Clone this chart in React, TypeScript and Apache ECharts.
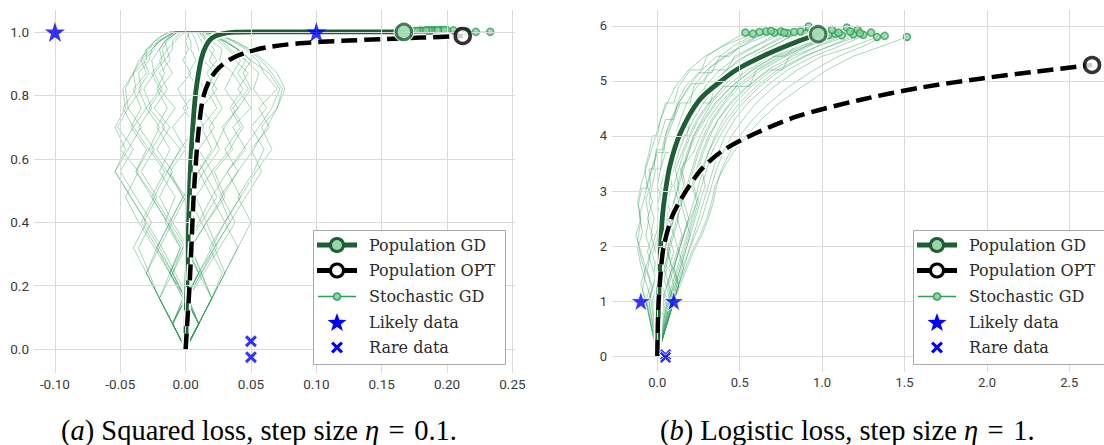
import React, { useEffect, useRef } from "react";
import * as echarts from "echarts";

// ---------------- Panel (a): squared loss ----------------
const A_X_TICKS = [-0.1, -0.05, 0, 0.05, 0.1, 0.15, 0.2, 0.25];
const A_Y_TICKS = [0, 0.2, 0.4, 0.6, 0.8, 1.0];
const A_GD = [[0,0],[0.0005,0.1],[0.001,0.2],[0.0016,0.3],[0.0023,0.4],[0.003,0.5],[0.004,0.6],[0.0055,0.7],[0.0075,0.8],[0.0095,0.86],[0.012,0.915],[0.0155,0.955],[0.02,0.98],[0.027,0.993],[0.038,0.999],[0.06,1.0],[0.167,1.0]];
const A_OPT = [[0,0],[0.0015,0.1],[0.003,0.2],[0.0045,0.33],[0.006,0.47],[0.0077,0.58],[0.0097,0.68],[0.013,0.785],[0.018,0.845],[0.025,0.885],[0.034,0.913],[0.045,0.933],[0.0615,0.951],[0.087,0.964],[0.12,0.972],[0.15,0.977],[0.18,0.982],[0.212,0.987]];
const A_LIKELY = [[-0.1,1],[0.1,1]];
const A_RARE = [[0.05,0.025],[0.05,-0.025]];
// stochastic GD paths, sampled at these heights
const A_SGD_LEVELS = [0,0.08,0.16,0.24,0.32,0.40,0.48,0.56,0.63,0.70,0.76,0.82,0.87,0.91,0.945,0.97,0.988,1.0];
const A_SGD_X = [
  [0,-0.01,-0.002,-0.012,-0.004,-0.016,-0.008,-0.02,-0.012,-0.022,-0.014,-0.022,-0.016,-0.02,-0.014,-0.016,-0.01,-0.006],
  [0,0.01,0.002,0.012,0.022,0.012,0.024,0.014,0.026,0.018,0.028,0.02,0.026,0.018,0.022,0.016,0.014,0.012],
  [0,-0.01,-0.02,-0.01,-0.022,-0.034,-0.024,-0.038,-0.028,-0.04,-0.03,-0.036,-0.028,-0.032,-0.024,-0.022,-0.014,-0.008],
  [0,0.01,0.02,0.028,0.018,0.03,0.042,0.032,0.046,0.036,0.05,0.04,0.048,0.038,0.04,0.03,0.022,0.016],
  [0,-0.01,0,-0.012,-0.024,-0.036,-0.046,-0.036,-0.05,-0.04,-0.048,-0.038,-0.04,-0.03,-0.03,-0.02,-0.014,-0.01],
  [0,0.01,0.0,0.01,0.0,0.012,0.002,0.014,0.004,0.014,0.006,0.014,0.008,0.012,0.01,0.008,0.006,0.004],
  [0,0.01,0.02,0.01,0.022,0.034,0.046,0.058,0.05,0.064,0.056,0.07,0.06,0.055,0.046,0.036,0.026,0.02],
  [0,-0.01,-0.02,-0.028,-0.036,-0.026,-0.038,-0.05,-0.04,-0.052,-0.044,-0.046,-0.04,-0.034,-0.03,-0.024,-0.018,-0.012],
  [0,0.01,0,-0.01,-0.002,0.008,-0.002,0.01,0.02,0.012,0.024,0.016,0.022,0.014,0.016,0.012,0.01,0.008],
  [0,-0.01,0,0.01,0.02,0.03,0.02,0.032,0.044,0.056,0.066,0.072,0.064,0.05,0.04,0.03,0.022,0.016],
  [0,-0.01,-0.002,-0.012,-0.022,-0.012,-0.002,-0.012,0.0,-0.01,0.002,-0.006,0.004,-0.002,0.002,0.0,0.002,0.002],
  [0,0.01,0.02,0.012,0.004,0.016,0.028,0.02,0.034,0.044,0.036,0.048,0.04,0.046,0.034,0.028,0.02,0.014],
  [0,-0.01,-0.02,-0.012,-0.004,-0.014,-0.026,-0.016,-0.028,-0.02,-0.03,-0.02,-0.026,-0.018,-0.02,-0.016,-0.012,-0.008],
  [0,0.01,0.002,-0.008,-0.018,-0.03,-0.042,-0.054,-0.046,-0.054,-0.046,-0.048,-0.04,-0.036,-0.028,-0.024,-0.018,-0.012],
  [0,0.01,0.02,0.03,0.022,0.034,0.026,0.04,0.052,0.062,0.07,0.074,0.066,0.058,0.048,0.038,0.028,0.02],
  [0,-0.01,0,0.012,0.004,0.016,0.008,0.02,0.01,0.022,0.012,0.024,0.016,0.024,0.018,0.016,0.012,0.01],
  [0,0.01,0,0.01,0.002,-0.01,0,-0.014,-0.004,-0.018,-0.008,-0.02,-0.01,-0.016,-0.01,-0.01,-0.006,-0.004],
  [0,-0.01,-0.02,-0.03,-0.02,-0.032,-0.022,-0.034,-0.024,-0.036,-0.026,-0.032,-0.024,-0.026,-0.02,-0.016,-0.01,-0.006],
  [0,0.01,0.02,0.012,0.024,0.016,0.03,0.022,0.036,0.028,0.04,0.03,0.036,0.026,0.028,0.02,0.014,0.01],
  [0,-0.01,-0.02,-0.03,-0.04,-0.03,-0.042,-0.054,-0.044,-0.034,-0.044,-0.034,-0.036,-0.028,-0.026,-0.02,-0.012,-0.008],
  [0,0.01,0.0,-0.01,-0.02,-0.01,-0.02,-0.01,-0.022,-0.012,-0.024,-0.014,-0.02,-0.012,-0.014,-0.008,-0.004,0.0],
  [0,0.01,0.02,0.03,0.04,0.05,0.04,0.052,0.06,0.05,0.062,0.052,0.056,0.046,0.04,0.032,0.024,0.016],
  [0,-0.01,0.0,0.01,0.0,-0.012,-0.002,-0.014,-0.004,0.008,-0.002,0.01,0.002,0.008,0.004,0.004,0.002,0.002],
  [0,0.01,0.002,0.014,0.026,0.038,0.028,0.04,0.03,0.042,0.034,0.044,0.036,0.042,0.032,0.026,0.018,0.012],
  [0,-0.01,-0.02,-0.03,-0.022,-0.012,-0.024,-0.014,-0.026,-0.016,-0.028,-0.018,-0.024,-0.016,-0.018,-0.014,-0.01,-0.006],
  [0,0.01,0.0,-0.01,0.0,0.01,0.02,0.01,0.022,0.03,0.04,0.05,0.044,0.05,0.04,0.03,0.02,0.014],
  [0,-0.01,0.0,-0.012,-0.002,-0.014,-0.026,-0.038,-0.03,-0.042,-0.034,-0.04,-0.03,-0.034,-0.026,-0.02,-0.014,-0.008],
  [0,0.01,0.02,0.03,0.04,0.03,0.042,0.054,0.066,0.058,0.07,0.076,0.07,0.06,0.05,0.038,0.028,0.02],
];
const A_SGD_END = [[0.172,1.003],[0.185,1.005],[0.176,1.002],[0.195,1.006],[0.170,1.001],[0.180,1.004],[0.205,1.005],[0.178,1.003],[0.190,1.006],[0.222,1.0],[0.183,1.004],[0.200,1.005],[0.174,1.002],[0.187,1.005],[0.233,1.0],[0.197,1.006],[0.181,1.003],[0.192,1.004],[0.188,1.004],[0.179,1.003],[0.186,1.005],[0.210,1.002],[0.175,1.003],[0.198,1.006],[0.184,1.004],[0.193,1.005],[0.177,1.003],[0.215,1.001]];

// ---------------- Panel (b): logistic loss ----------------
const B_X_TICKS = [0, 0.5, 1, 1.5, 2, 2.5];
const B_Y_TICKS = [0, 1, 2, 3, 4, 5, 6];
const B_GD = [[0,0],[0.004,0.5],[0.008,1.0],[0.013,1.5],[0.02,2.0],[0.03,2.5],[0.045,2.9],[0.075,3.44],[0.138,4.04],[0.254,4.65],[0.40,5.03],[0.506,5.25],[0.675,5.5],[0.843,5.71],[0.976,5.85]];
const B_OPT = [[0,0],[0.002,0.4],[0.008,1.0],[0.02,1.5],[0.038,1.98],[0.089,2.53],[0.14,2.83],[0.2,3.12],[0.275,3.42],[0.4,3.74],[0.59,4.04],[0.843,4.35],[1.222,4.65],[1.6,4.88],[1.98,5.05],[2.3,5.17],[2.638,5.29]];
const B_LIKELY = [[-0.1,1],[0.1,1]];
const B_RARE = [[0.05,0.025],[0.05,-0.025]];
// stochastic GD paths as flat x,y lists (last pair = end point)
const B_SGD = [
  [0,0,-0.06,0.9,-0.09,1.2,-0.07,1.5,-0.1,1.8,-0.12,2.1,-0.1,2.45,-0.115,2.75,-0.095,3.05,-0.06,3.05,-0.075,3.4,-0.05,3.7,-0.03,4.0,0.0,4.0,0.02,4.3,0.05,4.6,0.1,4.6,0.13,4.9,0.2,5.2,0.27,5.2,0.3,5.45,0.4,5.65,0.534,5.88],
  [0,0,-0.05,0.95,-0.03,1.25,-0.06,1.55,-0.04,1.9,-0.07,2.2,-0.05,2.5,-0.07,2.85,-0.04,3.1,-0.05,3.4,-0.02,3.4,-0.01,3.7,0.02,4.0,0.05,4.3,0.1,4.3,0.12,4.6,0.17,4.9,0.25,5.15,0.33,5.15,0.38,5.45,0.47,5.65,0.62,5.89],
  [0,0,0.08,1.0,0.05,1.3,0.02,1.6,-0.01,1.9,-0.04,2.2,-0.02,2.5,-0.05,2.8,-0.03,3.1,-0.01,3.4,0.02,3.4,0.03,3.7,0.06,4.0,0.1,4.3,0.14,4.6,0.2,4.6,0.22,4.9,0.3,5.2,0.42,5.45,0.52,5.65,0.66,5.9],
  [0,0,-0.04,1.05,-0.07,1.35,-0.1,1.65,-0.12,1.95,-0.09,2.25,-0.11,2.55,-0.08,2.85,-0.06,3.15,-0.03,3.45,0.0,3.75,0.03,3.75,0.05,4.05,0.09,4.35,0.14,4.65,0.21,4.95,0.28,4.95,0.32,5.25,0.43,5.5,0.56,5.7,0.71,5.88],
  [0,0,0.1,1.0,0.07,1.3,0.04,1.6,0.07,1.9,0.04,2.2,0.01,2.5,0.03,2.8,0.0,3.1,0.02,3.4,0.05,3.7,0.1,3.7,0.11,4.0,0.14,4.3,0.18,4.6,0.24,4.9,0.34,5.2,0.42,5.2,0.47,5.45,0.6,5.65,0.75,5.9],
  [0,0,-0.06,0.95,-0.03,1.25,0.0,1.55,-0.03,1.85,0.0,2.15,0.03,2.45,0.0,2.75,0.03,3.05,0.07,3.05,0.06,3.35,0.08,3.65,0.11,3.95,0.15,4.25,0.2,4.55,0.28,4.85,0.36,4.85,0.4,5.15,0.5,5.4,0.63,5.6,0.79,5.87],
  [0,0,0.06,1.0,0.03,1.3,0.06,1.6,0.03,1.9,0.06,2.2,0.09,2.5,0.06,2.8,0.09,3.1,0.07,3.4,0.1,3.7,0.13,4.0,0.18,4.0,0.2,4.3,0.25,4.6,0.31,4.9,0.42,5.2,0.54,5.45,0.67,5.65,0.83,5.89],
  [0,0,0.09,1.0,0.12,1.3,0.09,1.6,0.06,1.9,0.03,2.2,0.06,2.5,0.03,2.8,0.06,3.1,0.09,3.4,0.12,3.7,0.16,4.0,0.2,4.3,0.26,4.6,0.32,4.6,0.35,4.9,0.46,5.2,0.58,5.45,0.71,5.65,0.87,5.9],
  [0,0,-0.07,1.0,-0.04,1.3,-0.07,1.6,-0.04,1.9,-0.01,2.2,0.02,2.5,0.05,2.8,0.08,3.1,0.06,3.4,0.1,3.7,0.14,4.0,0.19,4.3,0.25,4.6,0.33,4.9,0.45,5.2,0.52,5.2,0.58,5.45,0.74,5.7,0.918,5.99],
  [0,0,0.1,1.0,0.13,1.3,0.16,1.6,0.13,1.9,0.1,2.2,0.13,2.5,0.1,2.8,0.13,3.1,0.11,3.4,0.15,3.7,0.19,4.0,0.24,4.3,0.31,4.6,0.4,4.9,0.48,4.9,0.52,5.2,0.65,5.45,0.8,5.65,1.0,5.86],
  [0,0,0.04,1.0,0.01,1.3,0.04,1.6,0.07,1.9,0.1,2.2,0.07,2.5,0.1,2.8,0.13,3.1,0.16,3.4,0.19,3.7,0.22,4.0,0.27,4.3,0.33,4.6,0.42,4.9,0.55,5.2,0.69,5.45,0.78,5.45,0.84,5.65,1.04,5.84],
  [0,0,0.08,1.0,0.11,1.3,0.14,1.6,0.17,1.9,0.2,2.2,0.17,2.5,0.14,2.8,0.17,3.1,0.15,3.4,0.18,3.7,0.22,4.0,0.28,4.3,0.35,4.6,0.45,4.9,0.58,5.2,0.72,5.45,0.88,5.65,1.08,5.86],
  [0,0,-0.05,1.0,-0.02,1.3,0.01,1.6,0.04,1.9,0.07,2.2,0.1,2.5,0.13,2.8,0.16,3.1,0.14,3.4,0.22,3.7,0.26,4.0,0.31,4.3,0.38,4.6,0.48,4.9,0.61,5.2,0.76,5.45,0.92,5.65,1.12,5.83],
  [0,0,0.1,1.0,0.07,1.3,0.1,1.6,0.13,1.9,0.16,2.2,0.19,2.5,0.16,2.8,0.19,3.1,0.22,3.4,0.25,3.7,0.29,4.0,0.34,4.3,0.41,4.6,0.5,4.9,0.63,5.2,0.78,5.45,0.95,5.7,1.15,5.97],
  [0,0,0.07,1.0,0.1,1.3,0.13,1.6,0.16,1.9,0.19,2.2,0.22,2.5,0.25,2.8,0.22,3.1,0.25,3.4,0.28,3.7,0.32,4.0,0.37,4.3,0.44,4.6,0.54,4.9,0.67,5.2,0.82,5.45,0.99,5.65,1.19,5.85],
  [0,0,0.1,1.0,0.13,1.3,0.1,1.6,0.13,1.9,0.16,2.2,0.19,2.5,0.22,2.8,0.25,3.1,0.28,3.4,0.31,3.7,0.35,4.0,0.4,4.3,0.47,4.6,0.57,4.9,0.7,5.2,0.85,5.45,1.02,5.7,1.215,5.93],
  [0,0,0.08,1.0,0.11,1.3,0.14,1.6,0.17,1.9,0.2,2.2,0.23,2.5,0.26,2.8,0.29,3.1,0.27,3.4,0.31,3.7,0.36,4.0,0.42,4.3,0.5,4.6,0.6,4.9,0.73,5.2,0.89,5.45,1.06,5.65,1.25,5.84],
  [0,0,0.1,1.0,0.13,1.3,0.16,1.6,0.19,1.9,0.22,2.2,0.25,2.5,0.28,2.8,0.31,3.1,0.34,3.4,0.37,3.7,0.41,4.0,0.47,4.3,0.55,4.6,0.66,4.9,0.79,5.2,0.95,5.45,1.12,5.65,1.297,5.88],
  [0,0,0.09,1.0,0.12,1.3,0.15,1.6,0.19,1.9,0.23,2.2,0.27,2.5,0.3,2.8,0.33,3.1,0.36,3.4,0.4,3.7,0.45,4.0,0.52,4.3,0.6,4.6,0.71,4.9,0.85,5.2,1.0,5.45,1.16,5.6,1.333,5.8],
  [0,0,0.1,1.0,0.13,1.3,0.17,1.6,0.21,1.9,0.26,2.2,0.3,2.5,0.33,2.8,0.35,3.1,0.4,3.4,0.46,3.7,0.54,4.0,0.63,4.3,0.74,4.6,0.88,4.9,1.03,5.2,1.19,5.45,1.35,5.62,1.515,5.8],
  [0,0,-0.03,1.0,0.0,1.3,-0.03,1.6,-0.06,1.9,-0.03,2.2,-0.06,2.5,-0.03,2.8,-0.06,3.1,-0.03,3.4,0.0,3.7,0.04,3.7,0.05,4.0,0.09,4.3,0.13,4.6,0.19,4.9,0.27,5.2,0.36,5.45,0.44,5.45,0.52,5.7,0.69,5.91],
  [0,0,0.05,1.0,0.02,1.3,0.05,1.6,0.08,1.9,0.05,2.2,0.02,2.5,0.05,2.8,0.02,3.1,0.05,3.4,0.08,3.7,0.11,4.0,0.16,4.3,0.21,4.6,0.26,4.6,0.29,4.9,0.38,5.2,0.49,5.45,0.61,5.65,0.77,5.88],
  [0,0,-0.02,1.0,0.01,1.3,-0.02,1.6,0.01,1.9,0.04,2.2,0.07,2.5,0.04,2.8,0.07,3.1,0.1,3.4,0.13,3.7,0.17,4.0,0.22,4.3,0.28,4.6,0.36,4.9,0.47,5.2,0.6,5.45,0.74,5.65,0.9,5.86],
  [0,0,0.07,1.0,0.1,1.3,0.07,1.6,0.1,1.9,0.07,2.2,0.1,2.5,0.13,2.8,0.1,3.1,0.13,3.4,0.16,3.7,0.2,4.0,0.25,4.3,0.32,4.6,0.4,4.9,0.5,5.2,0.64,5.45,0.78,5.65,0.96,5.9],
  [0,0,0.03,1.0,0.06,1.3,0.09,1.6,0.06,1.9,0.09,2.2,0.12,2.5,0.15,2.8,0.12,3.1,0.15,3.4,0.19,3.7,0.23,4.0,0.29,4.3,0.36,4.6,0.45,4.9,0.57,5.2,0.71,5.45,0.87,5.7,1.06,5.93],
  [0,0,0.09,1.0,0.06,1.3,0.09,1.6,0.12,1.9,0.15,2.2,0.12,2.5,0.15,2.8,0.18,3.1,0.21,3.4,0.24,3.7,0.28,4.0,0.33,4.3,0.4,4.6,0.48,4.9,0.56,4.9,0.6,5.2,0.74,5.45,0.9,5.65,1.1,5.88],
  [0,0,0.1,1.0,0.13,1.3,0.1,1.6,0.13,1.9,0.16,2.2,0.2,2.5,0.24,2.8,0.21,3.1,0.24,3.4,0.27,3.7,0.31,4.0,0.37,4.3,0.45,4.6,0.55,4.9,0.68,5.2,0.76,5.2,0.8,5.45,0.97,5.7,1.17,5.9],
  [0,0,0.06,1.0,0.09,1.3,0.12,1.6,0.15,1.9,0.18,2.2,0.21,2.5,0.24,2.8,0.27,3.1,0.3,3.4,0.33,3.7,0.38,4.0,0.44,4.3,0.52,4.6,0.62,4.9,0.75,5.2,0.9,5.45,1.06,5.65,1.23,5.87],
  [0,0,-0.07,1.0,-0.1,1.3,-0.07,1.6,-0.1,1.9,-0.13,2.2,-0.1,2.5,-0.12,2.8,-0.1,3.1,-0.07,3.4,-0.04,3.7,-0.01,4.0,0.02,4.3,0.06,4.6,0.11,4.9,0.19,5.2,0.29,5.45,0.41,5.65,0.58,5.86],
  [0,0,0.1,1.0,0.14,1.3,0.18,1.6,0.22,1.9,0.27,2.2,0.31,2.5,0.34,2.8,0.36,3.1,0.39,3.4,0.44,3.7,0.5,4.0,0.58,4.3,0.68,4.6,0.8,4.9,0.95,5.2,1.1,5.45,1.24,5.62,1.38,5.82],
];

// ---------------- styling ----------------
const C_GD = "#1d5e34";
const C_GD_FILL = "#98d6a8";
const C_SGD = "#2e9e57";
const C_SGD_FILL = "#8fd4a2";
const C_DATA = "#0000ff";
const C_GRID = "#dadada";
const DASH = [16, 7];
const STAR = "path://M50,0L61.2,34.5L97.6,34.5L68.2,55.9L79.4,90.5L50,69.1L20.6,90.5L31.8,55.9L2.4,34.5L38.8,34.5Z";
const CROSS = "path://M0,18L18,0L50,32L82,0L100,18L68,50L100,82L82,100L50,68L18,100L0,82L32,50Z";
const CROSS_PTS = [[0,18],[18,0],[50,32],[82,0],[100,18],[68,50],[100,82],[82,100],[50,68],[18,100],[0,82],[32,50]];

function panelSeries(
  idx: number,
  gd: number[][],
  opt: number[][],
  sgdPaths: number[][][],
  sgdEnds: number[][],
  likely: number[][],
  rare: number[][],
  xTicks: number[],
  yTicks: number[],
  dataBorder: boolean
) {
  const ax = { xAxisIndex: idx, yAxisIndex: idx, silent: true, animation: false };
  const s: any[] = [];
  s.push({
    ...ax, type: "line", data: [], z: 0,
    markLine: {
      silent: true, symbol: ["none", "none"], label: { show: false },
      lineStyle: { color: C_GRID, width: 1, type: "solid" },
      emphasis: { disabled: true },
      data: [...xTicks.map((v) => ({ xAxis: v })), ...yTicks.map((v) => ({ yAxis: v }))],
    },
  });
  sgdPaths.forEach((p) => {
    s.push({ ...ax, type: "line", data: p, showSymbol: false, symbol: "none", z: 1,
      lineStyle: { color: C_SGD, width: 1, opacity: 0.42 }, emphasis: { disabled: true } });
  });
  s.push({ ...ax, type: "scatter", data: sgdEnds, symbol: "circle", symbolSize: 7, z: 2,
    itemStyle: { color: C_SGD_FILL, borderColor: C_SGD, borderWidth: 1.5 } });
  s.push({ ...ax, type: "line", data: gd, showSymbol: false, symbol: "none", smooth: 0.3, z: 3,
    lineStyle: { color: "#ffffff", width: 8.5 } });
  s.push({ ...ax, type: "line", data: gd, showSymbol: false, symbol: "none", smooth: 0.3, z: 4,
    lineStyle: { color: C_GD, width: 4.8 } });
  s.push({ ...ax, type: "line", data: opt, showSymbol: false, symbol: "none", smooth: 0.3, z: 5,
    lineStyle: { color: "#ffffff", width: 7.5, type: DASH, cap: "butt" } });
  s.push({ ...ax, type: "line", data: opt, showSymbol: false, symbol: "none", smooth: 0.3, z: 6,
    lineStyle: { color: "#000000", width: 4.5, type: DASH, cap: "butt" } });
  s.push({ ...ax, type: "scatter", data: [gd[gd.length - 1]], symbol: "circle", symbolSize: 21, z: 7,
    itemStyle: { color: "#ffffff" } });
  s.push({ ...ax, type: "scatter", data: [gd[gd.length - 1]], symbol: "circle", symbolSize: 15.5, z: 7,
    itemStyle: { color: C_GD_FILL, borderColor: C_GD, borderWidth: 3 } });
  s.push({ ...ax, type: "scatter", data: [opt[opt.length - 1]], symbol: "circle", symbolSize: 15, z: 7,
    itemStyle: { color: "#ffffff", borderColor: "#000000", borderWidth: 3.5 } });
  s.push({ ...ax, type: "scatter", data: likely, symbol: STAR, symbolSize: 20, z: 8,
    itemStyle: { color: C_DATA, borderColor: dataBorder ? "#ffffff" : C_DATA, borderWidth: dataBorder ? 1 : 0 } });
  s.push({ ...ax, type: "scatter", data: rare, symbol: CROSS, symbolSize: 12, z: 8,
    itemStyle: { color: C_DATA, borderColor: dataBorder ? "#ffffff" : C_DATA, borderWidth: dataBorder ? 1 : 0 } });
  return s;
}

function starPts(cx: number, cy: number, R: number, r: number) {
  const pts: number[][] = [];
  for (let i = 0; i < 10; i++) {
    const a = -Math.PI / 2 + (i * Math.PI) / 5;
    const rad = i % 2 === 0 ? R : r;
    pts.push([cx + rad * Math.cos(a), cy + rad * Math.sin(a)]);
  }
  return pts;
}

function legendGroup(x: number, y: number, w: number) {
  const rows = [15, 40.5, 66.5, 92, 117.5];
  const hx = 24;
  const tx = 56;
  const label = (t: string, ry: number) => ({
    type: "text", z: 101,
    style: { text: t, x: tx, y: ry, fill: "#2b2b2b", fontFamily: "DejaVu Serif", fontSize: 16, align: "left", verticalAlign: "middle" },
  });
  return {
    type: "group", x, y, silent: true, z: 100,
    children: [
      { type: "rect", z: 100, shape: { x: 0.5, y: 0.5, width: w, height: 134 }, style: { fill: "#ffffff", stroke: "#a9a9a9", lineWidth: 1 } },
      { type: "line", z: 101, shape: { x1: hx - 20, y1: rows[0], x2: hx + 20, y2: rows[0] }, style: { stroke: C_GD, lineWidth: 4.8 } },
      { type: "circle", z: 102, shape: { cx: hx, cy: rows[0], r: 6.5 }, style: { fill: C_GD_FILL, stroke: C_GD, lineWidth: 3 } },
      label("Population GD", rows[0]),
      { type: "line", z: 101, shape: { x1: hx - 20, y1: rows[1], x2: hx + 20, y2: rows[1] }, style: { stroke: "#000", lineWidth: 4.8 } },
      { type: "circle", z: 102, shape: { cx: hx, cy: rows[1], r: 6.5 }, style: { fill: "#fff", stroke: "#000", lineWidth: 3 } },
      label("Population OPT", rows[1]),
      { type: "line", z: 101, shape: { x1: hx - 19, y1: rows[2], x2: hx + 19, y2: rows[2] }, style: { stroke: C_SGD, lineWidth: 1.3 } },
      { type: "circle", z: 102, shape: { cx: hx, cy: rows[2], r: 3.5 }, style: { fill: C_SGD_FILL, stroke: C_SGD, lineWidth: 1.5 } },
      label("Stochastic GD", rows[2]),
      { type: "polygon", z: 101, shape: { points: starPts(hx, rows[3] + 1, 10, 4.1) }, style: { fill: C_DATA } },
      label("Likely data", rows[3]),
      { type: "polygon", z: 101, shape: { points: CROSS_PTS.map((p) => [hx - 6 + p[0] * 0.12, rows[4] - 6 + p[1] * 0.12]) }, style: { fill: C_DATA } },
      label("Rare data", rows[4]),
    ],
  };
}

function caption(x: number, y: number, letter: string, body: string, tail: string) {
  const base = { fontFamily: "Liberation Serif", fontSize: 28.5, fill: "#000" };
  return {
    type: "text", x, y, silent: true, z: 100,
    style: {
      ...base,
      text: `(${"{i|" + letter + "}"}) ${body} {i|η}\u2004=\u2004${tail}`,
      align: "left", verticalAlign: "middle",
      rich: { i: { ...base, fontStyle: "italic" } },
    },
  };
}

function axisPair(idx: number, fs: number, xr: number[], yr: number[], xt: number[], yt: number[], xf: (v: number) => string, yf: (v: number) => string) {
  const lab = { fontFamily: "Roboto", fontSize: fs, color: "#3a3a3a" };
  return {
    x: {
      type: "value", gridIndex: idx, min: xr[0], max: xr[1],
      axisLine: { show: false }, axisTick: { show: false }, splitLine: { show: false },
      axisLabel: { ...lab, margin: 4, customValues: xt, formatter: xf },
    },
    y: {
      type: "value", gridIndex: idx, min: yr[0], max: yr[1],
      axisLine: { show: false }, axisTick: { show: false }, splitLine: { show: false },
      axisLabel: { ...lab, margin: 5, customValues: yt, formatter: yf },
    },
  };
}

export default function App() {
  const ref = useRef<HTMLDivElement>(null);
  useEffect(() => {
    if (!ref.current) return;
    const chart = echarts.init(ref.current, undefined, { renderer: "svg" });
    const aPaths = A_SGD_X.map((xs, k) => [...A_SGD_LEVELS.map((y, i) => [xs[i], y]), A_SGD_END[k]]);
    const bPaths = B_SGD.map((flat) => {
      const pts: number[][] = [];
      for (let i = 0; i + 1 < flat.length; i += 2) pts.push([flat[i], flat[i + 1]]);
      return pts;
    });
    const bEnds = bPaths.map((p) => p[p.length - 1]);
    const A = axisPair(0, 13.5, [-0.116, 0.252], [-0.075, 1.069], A_X_TICKS, A_Y_TICKS, (v) => v.toFixed(2), (v) => v.toFixed(1));
    const B = axisPair(1, 13, [-0.275, 2.7105], [-0.29, 6.29], B_X_TICKS, B_Y_TICKS, (v) => v.toFixed(1), (v) => String(v));
    chart.setOption({
      animation: false,
      backgroundColor: "#ffffff",
      grid: [
        { left: 34, top: 10, width: 481, height: 363, containLabel: false, outerBoundsMode: "none" },
        { left: 612, top: 10, width: 492, height: 362, containLabel: false, outerBoundsMode: "none" },
      ],
      xAxis: [A.x, B.x],
      yAxis: [A.y, B.y],
      series: [
        ...panelSeries(0, A_GD, A_OPT, aPaths, A_SGD_END, A_LIKELY, A_RARE, A_X_TICKS, A_Y_TICKS, false),
        ...panelSeries(1, B_GD, B_OPT, bPaths, bEnds, B_LIKELY, B_RARE, B_X_TICKS, B_Y_TICKS, true),
      ],
      graphic: {
        elements: [
          legendGroup(313, 230, 192),
          legendGroup(913, 230, 200),
          caption(61, 430, "a", "Squared loss, step size", "0.1."),
          caption(660, 430, "b", "Logistic loss, step size", "1."),
        ],
      },
    });
    return () => chart.dispose();
  }, []);
  return (
    <div
      ref={ref}
      style={{ position: "absolute", left: 0, top: 0, width: 1104, height: 445, background: "#fff" }}
    />
  );
}
